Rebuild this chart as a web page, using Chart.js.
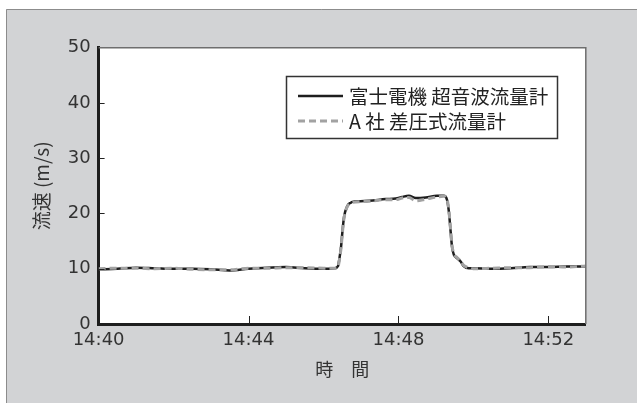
<!DOCTYPE html>
<html lang="ja">
<head>
<meta charset="utf-8">
<title>流速比較</title>
<script src="https://cdn.jsdelivr.net/npm/chart.js@4/dist/chart.umd.min.js"></script>
<style>
  html, body { margin: 0; padding: 0; background: #ffffff; }
  canvas { display: block; }
</style>
</head>
<body>
<canvas id="flowChart" width="637" height="403"></canvas>
<script>
// Elapsed minutes from 14:40
const sampleMinutes = [
  0, 0.5, 1.0, 1.5, 2.0, 2.5, 3.0, 3.5, 4.0, 4.5, 5.0, 5.5, 6.0, 6.3,
  6.39, 6.42, 6.47, 6.51, 6.55, 6.64, 6.73, 6.77, 7.22, 7.66, 7.93, 8.1,
  8.28, 8.46, 8.73, 9.03, 9.21, 9.30, 9.35, 9.39, 9.43, 9.48, 9.57, 9.66,
  9.74, 9.88, 10.0, 10.5, 11.0, 11.5, 12.0, 12.5, 13.0
];

// 富士電機 超音波流量計 (m/s)
const fujiSpeed = [
  9.9, 10.0, 10.2, 10.1, 10.0, 10.0, 9.9, 9.7, 10.0, 10.2, 10.3, 10.1, 10.0, 10.1,
  10.5, 11.6, 14.0, 17.0, 19.4, 21.4, 21.95, 22.1, 22.3, 22.6, 22.7, 23.0,
  23.2, 22.8, 22.9, 23.2, 23.2, 22.4, 20.1, 17.0, 14.0, 12.5, 11.9, 11.3,
  10.5, 10.1, 10.1, 10.0, 10.1, 10.3, 10.3, 10.4, 10.4
];

// A 社 差圧式流量計 (m/s)
const companyASpeed = [
  10.0, 10.1, 10.1, 10.0, 10.1, 9.9, 9.8, 9.8, 10.1, 10.1, 10.2, 10.2, 10.1, 10.1,
  10.4, 11.4, 13.8, 16.8, 19.2, 21.3, 21.9, 22.0, 22.2, 22.5, 22.5, 22.8,
  22.9, 22.3, 22.6, 23.0, 23.1, 22.5, 20.3, 17.2, 14.2, 12.7, 12.0, 11.4,
  10.6, 10.2, 10.0, 10.1, 10.2, 10.2, 10.4, 10.3, 10.5
];

const timeTickMinutes = [0, 4, 8, 12];
const timeTickLabels = ['14:40', '14:44', '14:48', '14:52'];
const speedTicks = [0, 10, 20, 30, 40, 50];

const seriesNames = ['富士電機 超音波流量計', 'A 社 差圧式流量計'];

const toPoints = (values) => sampleMinutes.map((m, i) => ({ x: m, y: values[i] }));

const latinFont = "'DejaVu Sans', 'Noto Sans CJK JP', sans-serif";
const cjkFont = "'Noto Sans CJK JP', 'DejaVu Sans', sans-serif";

// Panel background, plot frame, inward ticks and the boxed legend
const panelPlugin = {
  id: 'panel',
  beforeDraw(chart) {
    const { ctx, width, height, chartArea: a } = chart;
    ctx.save();
    ctx.fillStyle = '#ffffff';
    ctx.fillRect(0, 0, width, height);
    ctx.fillStyle = '#d2d3d5';
    ctx.fillRect(6, 9, width - 6, height - 9);
    ctx.strokeStyle = '#8c8c8c';
    ctx.lineWidth = 1;
    ctx.beginPath();
    ctx.moveTo(6.5, height);
    ctx.lineTo(6.5, 9.5);
    ctx.lineTo(width, 9.5);
    ctx.stroke();
    ctx.fillStyle = '#ffffff';
    ctx.fillRect(a.left, a.top, a.right - a.left, a.bottom - a.top);
    ctx.restore();
  },
  afterDraw(chart) {
    const { ctx, chartArea: a, scales } = chart;
    ctx.save();
    // top and right frame lines
    ctx.strokeStyle = '#6e6e6e';
    ctx.lineWidth = 1.5;
    ctx.beginPath();
    ctx.moveTo(a.left, a.top);
    ctx.lineTo(a.right, a.top);
    ctx.lineTo(a.right, a.bottom);
    ctx.stroke();

    // inward tick marks
    ctx.strokeStyle = '#222222';
    ctx.lineWidth = 1;
    ctx.beginPath();
    scales.x.ticks.forEach(t => {
      if (t.value === scales.x.min) return;
      const px = Math.round(scales.x.getPixelForValue(t.value)) + 0.5;
      ctx.moveTo(px, a.bottom);
      ctx.lineTo(px, a.bottom - 8);
    });
    scales.y.ticks.forEach(t => {
      if (t.value === scales.y.min || t.value === scales.y.max) return;
      const py = Math.round(scales.y.getPixelForValue(t.value)) + 0.5;
      ctx.moveTo(a.left, py);
      ctx.lineTo(a.left + 6, py);
    });
    ctx.stroke();

    // legend box
    const box = { x: 286.5, y: 76.5, w: 271, h: 62 };
    ctx.fillStyle = '#ffffff';
    ctx.fillRect(box.x, box.y, box.w, box.h);
    ctx.strokeStyle = '#333333';
    ctx.lineWidth = 1.5;
    ctx.strokeRect(box.x, box.y, box.w, box.h);

    const rows = [box.y + 19.5, box.y + 44.5];
    chart.data.datasets.forEach((ds, i) => {
      const y = rows[i];
      ctx.strokeStyle = ds.borderColor;
      ctx.lineWidth = ds.borderWidth;
      ctx.setLineDash(ds.borderDash || []);
      ctx.beginPath();
      ctx.moveTo(298, y);
      ctx.lineTo(343, y);
      ctx.stroke();
      ctx.setLineDash([]);
      ctx.fillStyle = '#222222';
      ctx.font = '19.5px ' + cjkFont;
      ctx.textBaseline = 'middle';
      ctx.textAlign = 'left';
      ctx.fillText(ds.label, 349, y + 1);
    });
    ctx.restore();
  }
};

new Chart(document.getElementById('flowChart'), {
  type: 'line',
  data: {
    datasets: [
      {
        label: seriesNames[0],
        data: toPoints(fujiSpeed),
        borderColor: '#1e1e1e',
        borderWidth: 2.5,
        pointRadius: 0,
        cubicInterpolationMode: 'monotone',
        order: 2
      },
      {
        label: seriesNames[1],
        data: toPoints(companyASpeed),
        borderColor: '#a2a2a2',
        borderWidth: 3,
        borderDash: [7, 4],
        pointRadius: 0,
        cubicInterpolationMode: 'monotone',
        order: 1
      }
    ]
  },
  options: {
    responsive: false,
    animation: false,
    layout: { padding: { top: 47.7, right: 51.2, left: 0, bottom: 0 } },
    plugins: {
      legend: { display: false },
      tooltip: { enabled: false }
    },
    scales: {
      x: {
        type: 'linear',
        min: 0,
        max: 13,
        afterFit(scale) { scale.height = 79; },
        afterBuildTicks(scale) { scale.ticks = timeTickMinutes.map(v => ({ value: v })); },
        grid: { display: false, drawTicks: false },
        border: { display: true, color: '#1e1e1e', width: 3 },
        ticks: {
          padding: 6,
          color: '#333333',
          font: { family: latinFont, size: 18 },
          maxRotation: 0,
          autoSkip: false,
          callback: (value) => timeTickLabels[timeTickMinutes.indexOf(value)]
        },
        title: {
          display: true,
          text: '時　間',
          color: '#333333',
          font: { family: cjkFont, size: 18 },
          padding: { top: 0, bottom: 23 }
        }
      },
      y: {
        min: 0,
        max: 50,
        afterFit(scale) { scale.width = 98.6; },
        afterBuildTicks(scale) { scale.ticks = speedTicks.map(v => ({ value: v })); },
        grid: { display: false, drawTicks: false },
        border: { display: true, color: '#1e1e1e', width: 3 },
        ticks: {
          padding: 8,
          color: '#333333',
          font: { family: latinFont, size: 18 },
          autoSkip: false
        },
        title: {
          display: true,
          text: '流速 (m/s)',
          color: '#333333',
          font: { family: cjkFont, size: 19 },
          padding: { top: 30, bottom: 0 }
        }
      }
    }
  },
  plugins: [panelPlugin]
});
</script>
</body>
</html>
